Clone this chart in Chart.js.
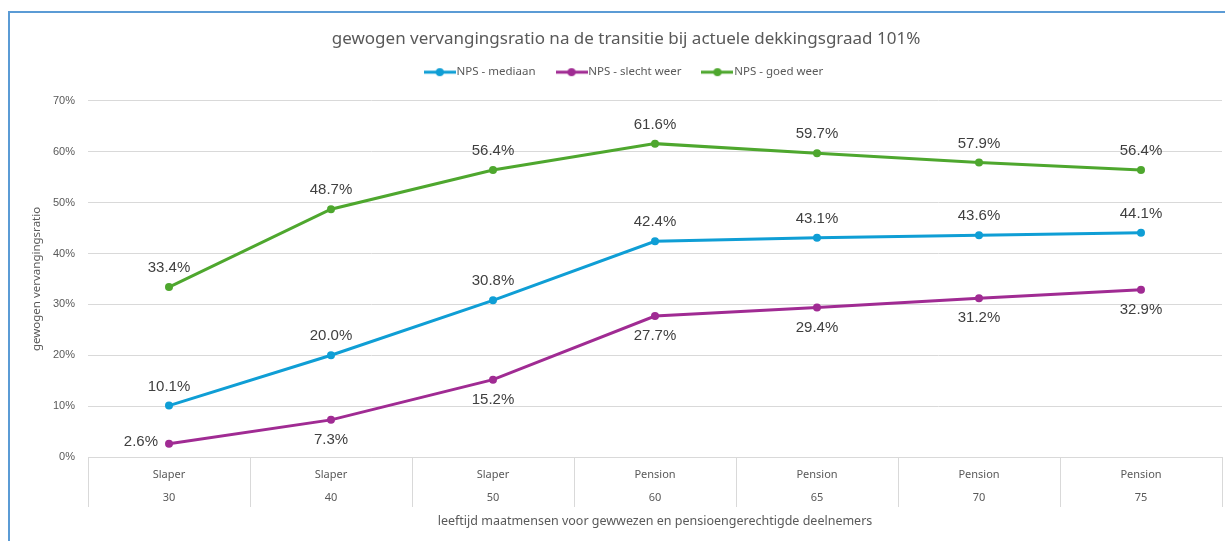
<!DOCTYPE html>
<html>
<head>
<meta charset="utf-8">
<script src="https://cdn.jsdelivr.net/npm/chart.js@4.4.1/dist/chart.umd.min.js"></script>
<style>
    html, body { margin: 0; padding: 0; overflow: hidden; background: #ffffff; }
    #wrap { position: absolute; left: 0; top: 0; width: 1248px; height: 541px; }
    #frame { position: absolute; left: 8px; top: 11px; width: 1300px; height: 600px;
             border-left: 2px solid #5b9bd5; border-top: 2px solid #5b9bd5; pointer-events: none; }
</style>
</head>
<body>
<div id="wrap"><canvas id="chart"></canvas></div>
<div id="frame"></div>
<script>
// Data
const groups = ['Slaper', 'Slaper', 'Slaper', 'Pension', 'Pension', 'Pension', 'Pension'];
const ages = ['30', '40', '50', '60', '65', '70', '75'];
const mediaan = [10.1, 20.0, 30.8, 42.4, 43.1, 43.6, 44.1];
const slechtWeer = [2.6, 7.3, 15.2, 27.7, 29.4, 31.2, 32.9];
const goedWeer = [33.4, 48.7, 56.4, 61.6, 59.7, 57.9, 56.4];
const yTicks = [0, 10, 20, 30, 40, 50, 60, 70];

const BLUE = '#0f9ed5';
const PURPLE = '#a02b93';
const GREEN = '#4ea72e';
const TEXT = '#595959';
const GRID = '#d9d9d9';

// legend icon: short line with a dot in the middle
function legendIcon(color) {
    const c = document.createElement('canvas');
    c.width = 32;
    c.height = 10;
    const g = c.getContext('2d');
    g.strokeStyle = color;
    g.lineWidth = 3;
    g.beginPath();
    g.moveTo(0, 5);
    g.lineTo(32, 5);
    g.stroke();
    g.fillStyle = color;
    g.beginPath();
    g.arc(16, 5, 4, 0, Math.PI * 2);
    g.fill();
    return c;
}

// value labels next to the points
const valueLabels = {
    id: 'valueLabels',
    afterDatasetsDraw(chart) {
        const ctx = chart.ctx;
        ctx.save();
        ctx.font = '15px "Liberation Sans", Arial, sans-serif';
        ctx.fillStyle = '#404040';
        ctx.textBaseline = 'middle';
        chart.data.datasets.forEach(function(ds, i) {
            const meta = chart.getDatasetMeta(i);
            meta.data.forEach(function(pt, j) {
                const txt = ds.data[j].toFixed(1) + '%';
                let x = pt.x, y = pt.y;
                ctx.textAlign = 'center';
                if (ds.labelPos === 'below') {
                    if (j === 0) {
                        ctx.textAlign = 'right';
                        x -= 11;
                        y -= 2;
                    } else {
                        y += 20;
                    }
                } else {
                    y -= 19;
                }
                ctx.fillText(txt, x, y);
            });
        });
        ctx.restore();
    }
};

const labels = groups.map(function(g, i) { return [g, ages[i]]; });

const data = {
    labels: labels,
    datasets: [
        {
            label: 'NPS - mediaan',
            data: mediaan,
            borderColor: BLUE,
            backgroundColor: BLUE,
            labelPos: 'above'
        },
        {
            label: 'NPS - slecht weer',
            data: slechtWeer,
            borderColor: PURPLE,
            backgroundColor: PURPLE,
            labelPos: 'below'
        },
        {
            label: 'NPS - goed weer',
            data: goedWeer,
            borderColor: GREEN,
            backgroundColor: GREEN,
            labelPos: 'above'
        }
    ]
};

const options = {
    responsive: true,
    maintainAspectRatio: false,
    animation: false,
    layout: {
        padding: { left: 30, right: 26, top: 0, bottom: 12 }
    },
    elements: {
        line: { borderWidth: 3, tension: 0 },
        point: { radius: 4, borderWidth: 0, hoverRadius: 4 }
    },
    plugins: {
        title: {
            display: true,
            text: 'gewogen vervangingsratio na de transitie bij actuele dekkingsgraad 101%',
            color: TEXT,
            font: { family: '"Noto Sans", sans-serif', size: 17, weight: 'normal', lineHeight: 1.2 },
            padding: { top: 29, bottom: -8 }
        },
        subtitle: {
            // spacer between legend and plot
            display: true,
            text: ' ',
            weight: 500,
            padding: 0,
            font: { size: 10, lineHeight: 1.3 }
        },
        legend: {
            position: 'top',
            labels: {
                usePointStyle: true,
                pointStyleWidth: 22,
                padding: 25,
                color: TEXT,
                font: { family: '"Noto Sans", sans-serif', size: 11.5 },
                generateLabels: function(chart) {
                    return chart.data.datasets.map(function(ds, i) {
                        return {
                            text: ds.label,
                            pointStyle: legendIcon(ds.borderColor),
                            fillStyle: ds.borderColor,
                            strokeStyle: ds.borderColor,
                            lineWidth: 0,
                            fontColor: TEXT,
                            datasetIndex: i
                        };
                    });
                }
            }
        },
        tooltip: { enabled: false }
    },
    scales: {
        x: {
            offset: true,
            grid: {
                offset: true,
                drawOnChartArea: false,
                drawTicks: true,
                tickLength: 50,
                color: GRID
            },
            border: { display: true, color: GRID },
            ticks: {
                autoSkip: false,
                maxRotation: 0,
                color: TEXT,
                padding: -44,
                font: { family: '"Noto Sans", sans-serif', size: 11, lineHeight: 23 / 11 }
            },
            title: {
                display: true,
                text: 'leeftijd maatmensen voor gewwezen en pensioengerechtigde deelnemers',
                color: TEXT,
                padding: 0,
                font: { family: '"Noto Sans", sans-serif', size: 12.5 }
            },
            afterFit: function(scale) { scale.height = 72; }
        },
        y: {
            min: yTicks[0],
            max: yTicks[yTicks.length - 1],
            afterBuildTicks: function(scale) {
                scale.ticks = yTicks.map(function(v) { return { value: v }; });
            },
            grid: { color: GRID, drawTicks: false },
            border: { display: false },
            ticks: {
                color: TEXT,
                padding: 13,
                font: { family: '"Liberation Sans", Arial, sans-serif', size: 11 },
                callback: function(v) { return v + '%'; }
            },
            title: {
                display: true,
                text: 'gewogen vervangingsratio',
                color: TEXT,
                padding: 0,
                font: { family: '"Noto Sans", sans-serif', size: 11.5 }
            },
            afterFit: function(scale) { scale.width = 58; }
        }
    }
};

new Chart(document.getElementById('chart').getContext('2d'), {
    type: 'line',
    data: data,
    options: options,
    plugins: [valueLabels]
});
</script>
</body>
</html>
